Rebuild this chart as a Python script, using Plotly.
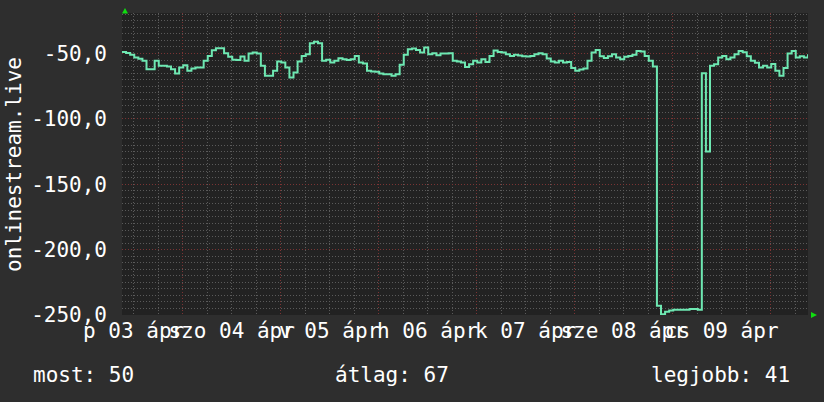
import datetime as dt
import plotly.graph_objects as go

# ---------------- data ----------------
START = dt.datetime(2020, 4, 3, 9, 9)
HOURS = list(range(169))
VALUES = [
    -48.8, -49.6, -51.0, -53.0, -54.0, -55.6, -62.0, -62.0, -55.6, -59.4,
    -59.4, -60.0, -62.0, -65.3, -60.7, -59.0, -63.2, -61.5, -60.7, -60.7,
    -55.6, -51.8, -47.4, -46.0, -46.0, -49.7, -52.5, -54.8, -55.0, -52.3,
    -55.6, -50.0, -49.2, -50.0, -59.4, -67.0, -67.0, -63.2, -56.1, -56.9,
    -60.7, -68.3, -64.5, -56.1, -51.8, -50.5, -42.1, -40.9, -42.1, -55.6,
    -54.8, -56.9, -55.6, -53.6, -54.3, -55.0, -54.3, -51.8, -56.9, -57.7,
    -63.2, -63.7, -64.0, -65.3, -65.8, -65.8, -67.0, -65.8, -58.5, -51.0,
    -46.7, -46.2, -47.3, -49.3, -45.4, -50.5, -49.8, -51.3, -50.0, -50.0,
    -49.8, -55.6, -56.1, -56.9, -60.4, -58.2, -55.6, -56.9, -54.3, -56.4,
    -51.8, -47.7, -48.8, -49.2, -50.5, -51.8, -51.0, -51.5, -52.0, -52.3,
    -51.8, -50.5, -49.8, -50.5, -53.8, -56.1, -56.9, -55.6, -56.9, -56.4,
    -61.0, -63.2, -62.3, -61.5, -55.6, -49.2, -47.3, -52.0, -53.5, -52.0,
    -50.5, -53.0, -54.3, -52.5, -51.8, -51.0, -48.0, -48.5, -51.8, -55.6,
    -60.0, -243.0, -249.5, -247.5, -246.5, -246.0, -246.0, -246.0, -246.0, -245.5,
    -245.5, -246.0, -65.0, -125.0, -59.4, -58.2, -53.0, -51.8, -54.3, -53.1,
    -50.5, -48.0, -49.0, -52.0, -55.6, -57.0, -60.7, -59.4, -60.7, -58.0,
    -63.2, -67.0, -61.0, -50.0, -48.0, -53.0, -52.0, -53.0, -50.5,
]
DAY_NOONS = ["2020-04-03 12:00", "2020-04-04 12:00", "2020-04-05 12:00",
             "2020-04-06 12:00", "2020-04-07 12:00", "2020-04-08 12:00",
             "2020-04-09 12:00"]
DAY_LABELS = ["p 03 ápr", "szo 04 ápr", "v 05 ápr", "h 06 ápr",
              "k 07 ápr", "sze 08 ápr", "cs 09 ápr"]
Y_TICKS = [-250, -200, -150, -100, -50]
Y_LABELS = ["-250,0", "-200,0", "-150,0", "-100,0", "-50,0"]
Y_TITLE = "onlinestream.live"
STATS = ["most: 50", "átlag: 67", "legjobb: 41"]

times = [START + dt.timedelta(hours=h) for h in HOURS]
END = START + dt.timedelta(hours=HOURS[-1])

# ---------------- figure ----------------
W, H = 824, 402
L, R, T, B = 122, 16, 13, 87
PW, PH = W - L - R, H - T - B

def px(x):
    return (x - L) / PW

def py(y):
    return (H - B - y) / PH

FONT = "DejaVu Sans Mono"
FS = 21
MAJOR = "#7a3434"
MINOR = "#5a5a5a"
DOTS = "1px,2px"

fig = go.Figure()
fig.add_trace(go.Scatter(
    x=times, y=VALUES, mode="lines", line=dict(color="#6ee8b2", width=2, shape="hv"),
    hoverinfo="skip", xaxis="x", yaxis="y"))
fig.add_trace(go.Scatter(
    x=DAY_NOONS, y=[None] * len(DAY_NOONS), mode="lines", hoverinfo="skip",
    xaxis="x2", yaxis="y", showlegend=False))

fig.update_layout(
    width=W, height=H,
    margin=dict(l=L, r=R, t=T, b=B, autoexpand=False),
    paper_bgcolor="#2e2e2e", plot_bgcolor="#222222",
    font=dict(family=FONT, size=FS, color="#ffffff"),
    showlegend=False,
    xaxis=dict(type="date", range=[START, END], showticklabels=False, ticks="",
               showgrid=True, gridcolor=MAJOR, griddash=DOTS, gridwidth=1,
               tick0="2020-04-04", dtick=86400000,
               minor=dict(dtick=6 * 3600000, tick0="2020-04-04", showgrid=True,
                          gridcolor=MINOR, griddash=DOTS, gridwidth=1),
               zeroline=False, showline=False),
    xaxis2=dict(type="date", overlaying="x", side="bottom", range=[START, END],
                tickmode="array", tickvals=DAY_NOONS, ticktext=DAY_LABELS,
                tickangle=0, showgrid=False, zeroline=False, showline=False,
                ticks="", ticklabelstandoff=1,
                tickfont=dict(family=FONT, size=FS, color="#ffffff")),
    yaxis=dict(range=[-250, -19], tickmode="array", tickvals=Y_TICKS, ticktext=Y_LABELS,
               showgrid=True, gridcolor=MAJOR, griddash=DOTS, gridwidth=1,
               minor=dict(tickmode="linear", tick0=-250, dtick=5, showgrid=True,
                          gridcolor=MINOR, griddash=DOTS, gridwidth=1),
               ticks="", ticklabelstandoff=14, zeroline=False, showline=False,
               tickfont=dict(family=FONT, size=FS, color="#ffffff")),
)

annotations = [
    dict(text=Y_TITLE, x=px(14), y=0.5, xref="paper", yref="paper", textangle=-90,
         xanchor="center", yanchor="middle", showarrow=False,
         font=dict(family=FONT, size=FS, color="#ffffff")),
]
for txt, xl in zip(STATS, [31, 333, 649]):
    annotations.append(dict(text=txt, x=px(xl), y=py(375), xref="paper", yref="paper",
                            xanchor="left", yanchor="middle", showarrow=False,
                            font=dict(family=FONT, size=FS, color="#ffffff")))
fig.update_layout(annotations=annotations)

GREEN = "#10dd10"
up = f"M {px(122)} {py(13.5)} L {px(128)} {py(13.5)} L {px(125)} {py(8)} Z"
right = f"M {px(811)} {py(312)} L {px(811)} {py(318)} L {px(817)} {py(315)} Z"
fig.update_layout(shapes=[
    dict(type="path", path=up, xref="paper", yref="paper", fillcolor=GREEN,
         line=dict(width=0)),
    dict(type="path", path=right, xref="paper", yref="paper", fillcolor=GREEN,
         line=dict(width=0)),
])

fig.write_html("out.html", config={"displayModeBar": False},
               post_script="document.body.style.margin='0';")
